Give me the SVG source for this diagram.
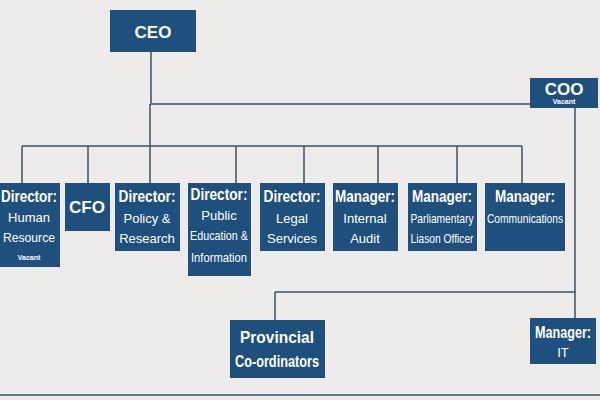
<svg xmlns="http://www.w3.org/2000/svg" width="600" height="400" viewBox="0 0 600 400">
<style>
.b{fill:#1f4f7d}
.t{font-family:"Liberation Sans",Arial,sans-serif;font-weight:bold;fill:#fff;text-anchor:middle;font-size:17px}
.s{font-family:"Liberation Sans",Arial,sans-serif;fill:#fff;text-anchor:middle;font-size:13px}
.v{font-family:"Liberation Sans",Arial,sans-serif;font-weight:bold;fill:#fff;text-anchor:middle;font-size:7px}
.c{stroke:#3a5168;stroke-width:1.5;fill:none}
</style>
<rect width="600" height="400" fill="#eeecea"/>
<g id="connectors" class="c">
<path d="M151 52V104H530M575 108V318M22 146H522M22 146V183M88 146V183M150 104V183M236 146V183M304 146V183M378 146V183M457 146V183M522 146V183M275 292H575M275 292V320M0 395H600"/>
</g>
<g id="ceo"><rect class="b" x="110" y="10" width="86" height="42"/><text class="t" x="153" y="38">CEO</text></g>
<g id="coo"><rect class="b" x="530" y="78" width="68" height="30"/><text class="t" x="564" y="95" font-size="15">COO</text><text class="v" x="564" y="104">Vacant</text></g>
<g id="hr"><rect class="b" x="0" y="183" width="60" height="84"/><text class="t" x="29" y="202" textLength="56" lengthAdjust="spacingAndGlyphs">Director:</text><text class="s" x="29" y="222">Human</text><text class="s" x="29" y="242" textLength="52" lengthAdjust="spacingAndGlyphs">Resource</text><text class="v" x="29" y="260">Vacant</text></g>
<g id="cfo"><rect class="b" x="65" y="183" width="45" height="48"/><text class="t" x="87" y="213">CFO</text></g>
<g id="policy"><rect class="b" x="115" y="183" width="65" height="68"/><text class="t" x="147" y="202" textLength="57" lengthAdjust="spacingAndGlyphs">Director:</text><text class="s" x="147" y="223">Policy &amp;</text><text class="s" x="147" y="243">Research</text></g>
<g id="public"><rect class="b" x="188" y="183" width="63" height="93"/><text class="t" x="219" y="200" textLength="57" lengthAdjust="spacingAndGlyphs">Director:</text><text class="s" x="219" y="220">Public</text><text class="s" x="219" y="240" textLength="58" lengthAdjust="spacingAndGlyphs">Education &amp;</text><text class="s" x="219" y="262" textLength="56" lengthAdjust="spacingAndGlyphs">Information</text></g>
<g id="legal"><rect class="b" x="260" y="183" width="65" height="68"/><text class="t" x="292" y="202" textLength="57" lengthAdjust="spacingAndGlyphs">Director:</text><text class="s" x="292" y="223">Legal</text><text class="s" x="292" y="243">Services</text></g>
<g id="audit"><rect class="b" x="333" y="183" width="65" height="68"/><text class="t" x="365" y="202" textLength="60" lengthAdjust="spacingAndGlyphs">Manager:</text><text class="s" x="365" y="223">Internal</text><text class="s" x="365" y="243">Audit</text></g>
<g id="parl"><rect class="b" x="408" y="183" width="69" height="68"/><text class="t" x="442" y="202" textLength="60" lengthAdjust="spacingAndGlyphs">Manager:</text><text class="s" x="442" y="223" textLength="63" lengthAdjust="spacingAndGlyphs">Parliamentary</text><text class="s" x="442" y="243" textLength="63" lengthAdjust="spacingAndGlyphs">Liason Officer</text></g>
<g id="comms"><rect class="b" x="485" y="183" width="80" height="68"/><text class="t" x="525" y="202" textLength="60" lengthAdjust="spacingAndGlyphs">Manager:</text><text class="s" x="525" y="223" textLength="76" lengthAdjust="spacingAndGlyphs">Communications</text></g>
<g id="provincial"><rect class="b" x="230" y="320" width="95" height="58"/><text class="t" x="277" y="343" font-size="15" textLength="74" lengthAdjust="spacingAndGlyphs">Provincial</text><text class="t" x="277" y="367" font-size="15" textLength="84" lengthAdjust="spacingAndGlyphs">Co-ordinators</text></g>
<g id="it"><rect class="b" x="530" y="318" width="66" height="46"/><text class="t" x="563" y="338" font-size="15" textLength="56" lengthAdjust="spacingAndGlyphs">Manager:</text><text class="s" x="563" y="357">IT</text></g>
</svg>
